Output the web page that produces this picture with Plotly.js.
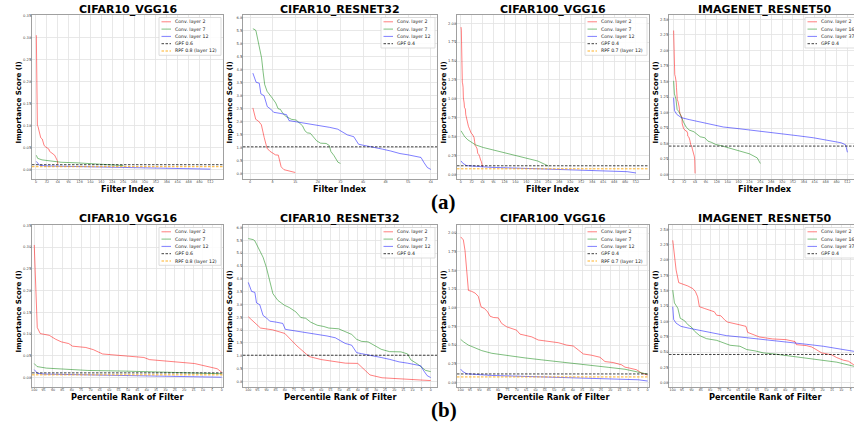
<!DOCTYPE html>
<html><head><meta charset="utf-8">
<script src="https://cdn.plot.ly/plotly-3.0.1.min.js"></script>
<style>html,body{margin:0;padding:0;overflow:hidden;background:#fff;width:854px;height:423px}#chart{width:862px;height:423px}</style>
</head><body><div id="chart"></div>
<script>
// ---------- DATA (percentile rank of filter -> importance score) ----------
// CIFAR10_VGG16
const c10vL2Pct   = [100, 98.4, 96.8, 95.2, 92, 88.6, 85.6, 81.6, 79.6, 72.5, 68.5, 63.5, 56.5, 48.5, 41.5, 38.5, 30.5, 21.4, 14.4, 8.4, 2.4, 0];
const c10vL2Score = [0.305, 0.115, 0.101, 0.100, 0.097, 0.088, 0.082, 0.078, 0.072, 0.069, 0.064, 0.054, 0.051, 0.048, 0.046, 0.041, 0.038, 0.034, 0.032, 0.026, 0.020, 0.012];
const c10vL7Pct   = [100, 98.5, 93.5, 81.6, 71.5, 51.5, 31.5, 11.4, 0];
const c10vL7Score = [0.032, 0.025, 0.0215, 0.0184, 0.0161, 0.0146, 0.0123, 0.010, 0.0085];
const c10vL12Pct   = [100, 98.2, 94.6, 60.5, 20.4, 0];
const c10vL12Score = [0.018, 0.0092, 0.0077, 0.0054, 0.003, 0.0005];
const c10vGPF = 0.0105, c10vRPF = 0.006;

// CIFAR10_RESNET32
const c10rL2Pct   = [100, 93.3, 86.7, 80, 73.3, 66.7, 60, 53.3, 46.7, 40, 33.3, 26.7, 20, 13.3, 6.7, 0];
const c10rL2Score = [2.52, 2.08, 2.01, 1.87, 1.38, 0.97, 0.85, 0.77, 0.71, 0.70, 0.25, 0.14, 0.11, 0.07, 0.05, 0.03];
const c10rL7Pct   = [100, 97.3, 96.4, 94.1, 91.9, 90.1, 88.3, 86.5, 83.8, 80.2, 77.5, 73.9, 71.2, 68.5, 65.8, 62.2, 58.6, 55.9, 50.5, 46, 43.3, 40.6, 37.9, 34.3, 30.7, 27.1, 22.6, 16.3, 12.7, 10.9, 7.3, 2.9, 0];
const c10rL7Score = [5.57, 5.53, 5.48, 5.12, 4.84, 4.45, 3.9, 3.42, 3.16, 2.97, 2.88, 2.71, 2.49, 2.46, 2.31, 2.19, 2.14, 2.08, 2.05, 1.9, 1.83, 1.64, 1.56, 1.54, 1.41, 1.25, 1.16, 1.15, 1.07, 0.84, 0.68, 0.43, 0.38];
const c10rL12Pct   = [100, 99.1, 98.2, 96.4, 95.5, 93.7, 91.9, 90.1, 88.3, 84.7, 81.1, 79.7, 73.9, 66.7, 61.3, 56.8, 52.3, 48.7, 46.9, 43.3, 40.6, 37.9, 32.5, 27.1, 22.6, 17.3, 12.7, 8.3, 5.5, 3.8, 1.9, 0];
const c10rL12Score = [3.86, 3.68, 3.51, 3.47, 3.06, 2.99, 2.57, 2.48, 2.35, 2.31, 2.26, 2.03, 1.97, 1.9, 1.83, 1.77, 1.70, 1.57, 1.48, 1.41, 1.12, 1.08, 0.99, 0.93, 0.86, 0.76, 0.71, 0.65, 0.61, 0.41, 0.22, 0.15];
const c10rGPF = 1.02;

// CIFAR100_VGG16
const c100vL2Pct   = [100, 98.6, 97.7, 96.8, 95.9, 94.1, 92.3, 90.6, 89.1, 87.3, 85.6, 84.3, 82.5, 79.9, 78.1, 75.4, 72.7, 70.1, 68.3, 65.6, 62, 58.5, 53.1, 47.8, 43.3, 39.8, 37.1, 34.4, 30, 25.5, 22.8, 18.4, 13.9, 12.1, 9.4, 5.9, 3.2, 1.4, 0];
const c100vL2Score = [1.95, 1.91, 1.765, 1.455, 1.233, 1.22, 1.197, 1.153, 1.011, 0.99, 0.945, 0.887, 0.87, 0.865, 0.79, 0.745, 0.723, 0.70, 0.647, 0.634, 0.61, 0.568, 0.545, 0.532, 0.50, 0.488, 0.435, 0.381, 0.364, 0.337, 0.279, 0.266, 0.235, 0.204, 0.19, 0.169, 0.124, 0.115, 0.098];
const c100vL7Pct   = [100, 98.6, 95.9, 92.3, 88.8, 83.4, 74.5, 65.6, 56.7, 47.8, 38.9, 30, 21.1, 12.1, 5, 0];
const c100vL7Score = [0.576, 0.545, 0.50, 0.457, 0.426, 0.39, 0.355, 0.328, 0.302, 0.279, 0.25, 0.226, 0.202, 0.176, 0.142, 0.11];
const c100vL12Pct   = [100, 99, 96.8, 92.3, 83.4, 65.6, 47.8, 30, 12.1, 5, 0];
const c100vL12Score = [0.177, 0.146, 0.115, 0.106, 0.093, 0.08, 0.067, 0.053, 0.044, 0.035, 0.018];
const c100vGPF = 0.113, c100vRPF = 0.073;

// IMAGENET_RESNET50
const inrL2Pct   = [100, 99.1, 98.2, 96.8, 94.7, 92, 89.3, 87.9, 86.7, 85.8, 83.1, 79.6, 77.8, 76.6, 74.3, 72, 70.7, 64.5, 60.9, 60, 57.3, 53.7, 46.7, 39.6, 34.7, 34, 28.7, 25.9, 24, 20.5, 15.1, 12.5, 8.9, 6.2, 3.6, 1.6, 0];
const inrL2Score = [2.32, 2.05, 1.836, 1.63, 1.61, 1.577, 1.534, 1.485, 1.40, 1.24, 1.21, 1.177, 1.156, 1.10, 1.09, 1.015, 0.988, 0.945, 0.918, 0.82, 0.783, 0.745, 0.713, 0.702, 0.67, 0.62, 0.605, 0.583, 0.55, 0.486, 0.454, 0.41, 0.367, 0.35, 0.297, 0.25, 0.02];
const inrL16Pct   = [100, 99.1, 97.3, 96, 93.7, 91.9, 90.1, 88.3, 85.6, 82, 76.5, 73, 69.4, 64.1, 60.5, 56, 51.6, 46.3, 37.4, 28.5, 19.6, 12.5, 3.6, 0];
const inrL16Score = [1.51, 1.30, 1.215, 1.05, 1.01, 0.945, 0.907, 0.837, 0.767, 0.718, 0.69, 0.648, 0.61, 0.594, 0.54, 0.518, 0.486, 0.47, 0.432, 0.40, 0.367, 0.335, 0.27, 0.18];
const inrL37Pct   = [100, 99.5, 98.2, 95.6, 91, 85.6, 78.5, 71.4, 64.1, 55.2, 46.3, 37.4, 28.5, 19.6, 10.7, 3.6, 1, 0];
const inrL37Score = [1.24, 1.03, 0.97, 0.918, 0.886, 0.853, 0.80, 0.767, 0.745, 0.718, 0.691, 0.664, 0.626, 0.594, 0.551, 0.513, 0.48, 0.36];
const inrGPF = 0.46;

// tick labels
const filterTicks = [0,32,64,96,128,160,192,224,256,288,320,352,384,416,448,480,512];
const resnet32Ticks = [0,8,16,24,32,40,48,56,64];
const pctTicks = [100,95,90,85,80,75,70,65,60,55,50,45,40,35,30,25,20,15,10,5,0];
const titles = ['CIFAR10_VGG16','CIFAR10_RESNET32','CIFAR100_VGG16','IMAGENET_RESNET50'];

// ---------- STYLE / LAYOUT ----------
const W = 862, H = 423;
const RED='rgba(255,0,0,0.5)', GREEN='rgba(0,128,0,0.5)', BLUE='rgba(0,0,255,0.5)';
const GPFC='rgba(0,0,0,0.75)', RPFC='rgba(255,165,0,0.85)';
const FONT='DejaVu Sans';
const cols=[[32,223],[243,437],[457,649],[669,861]];
const rows=[[15,179],[225,387]];
const titleY=[9.5,218.3];

const panels = [
 {layers:[['Conv. layer 2',64,c10vL2Pct,c10vL2Score,RED],['Conv. layer 7',256,c10vL7Pct,c10vL7Score,GREEN],['Conv. layer 12',512,c10vL12Pct,c10vL12Score,BLUE]],
  th:[['GPF 0.6',c10vGPF,GPFC],['RPF 0.8 (layer 12)',c10vRPF,RPFC]],
  xr1:[-11.7,549], xt1:filterTicks, xr2:[101.2,-0.7], yr:[-0.022,0.351], yt:[0,0.05,0.1,0.15,0.2,0.25,0.3,0.35], fmt:'.2f', legW:62},
 {layers:[['Conv. layer 2',16,c10rL2Pct,c10rL2Score,RED],['Conv. layer 7',32,c10rL7Pct,c10rL7Score,GREEN],['Conv. layer 12',64,c10rL12Pct,c10rL12Score,BLUE]],
  th:[['GPF 0.4',c10rGPF,GPFC]],
  xr1:[-2.5,66.2], xt1:resnet32Ticks, xr2:[102.9,-3.45], yr:[-0.22,6.1], yt:[0,0.5,1,1.5,2,2.5,3,3.5,4,4.5,5,5.5,6], fmt:'.1f', legW:54},
 {layers:[['Conv. layer 2',64,c100vL2Pct,c100vL2Score,RED],['Conv. layer 7',256,c100vL7Pct,c100vL7Score,GREEN],['Conv. layer 12',512,c100vL12Pct,c100vL12Score,BLUE]],
  th:[['GPF 0.4',c100vGPF,GPFC],['RPF 0.7 (layer 12)',c100vRPF,RPFC]],
  xr1:[-10.8,550], xt1:filterTicks, xr2:[102,-0.75], yr:[-0.062,2.11], yt:[0,0.25,0.5,0.75,1,1.25,1.5,1.75,2], fmt:'.2f', legW:62},
 {layers:[['Conv. layer 2',64,inrL2Pct,inrL2Score,RED],['Conv. layer 16',256,inrL16Pct,inrL16Score,GREEN],['Conv. layer 37',512,inrL37Pct,inrL37Score,BLUE]],
  th:[['GPF 0.4',inrGPF,GPFC]],
  xr1:[-12.6,552], xt1:filterTicks, xr2:[102,-0.5], yr:[-0.07,2.57], yt:[0,0.25,0.5,0.75,1,1.25,1.5,1.75,2,2.25,2.5], fmt:'.2f', legW:54}
];

const traces=[], shapes=[], annotations=[];
const layout = {width:W, height:H, margin:{l:0,r:0,t:0,b:0}, paper_bgcolor:'#fff', plot_bgcolor:'#fff', showlegend:false, font:{family:FONT}};
const px = x => x/W, py = y => 1 - y/H;

function axisBase(fs){
  return {showline:true, mirror:true, linecolor:'#a0a0a0', linewidth:1, showgrid:true, gridcolor:'#e2e2e2', gridwidth:0.8,
          zeroline:false, ticks:'outside', ticklen:1, tickwidth:0.6, tickcolor:'#a0a0a0', ticklabelstandoff:-2,
          tickfont:{family:FONT, size:fs, color:'#444'}, fixedrange:true};
}

panels.forEach((P,k)=>{
  for(let r=0;r<2;r++){
    const ax = k+1+4*r;
    const xa = ax===1?'x':'x'+ax, ya = ax===1?'y':'y'+ax;
    const xn = ax===1?'xaxis':'xaxis'+ax, yn = ax===1?'yaxis':'yaxis'+ax;
    const [L,R] = cols[k], [T,B] = rows[r];
    layout[xn] = Object.assign(axisBase(3.3), {domain:[px(L),px(R)], anchor:ya, range: r===0?P.xr1:P.xr2,
        tickmode:'array', tickvals: r===0?P.xt1:pctTicks, ticktext:(r===0?P.xt1:pctTicks).map(String)});
    layout[yn] = Object.assign(axisBase(3.7), {domain:[py(B),py(T)], anchor:xa, range:P.yr, tickmode:'array', tickvals:P.yt, tickformat:P.fmt});

    P.layers.forEach(Ly=>{
      const [name,n,pct,score,color] = Ly;
      const x = r===0 ? pct.map(p => 1 + (100-p)/100*(n-1)) : pct;
      traces.push({type:'scatter', mode:'lines', x:x, y:score, xaxis:xa, yaxis:ya, name:name,
                   line:{color:color, width:1}, showlegend:false, hoverinfo:'skip'});
    });
    P.th.forEach(t=>{
      shapes.push({type:'line', xref:xa+' domain', x0:0, x1:1, yref:ya, y0:t[1], y1:t[1], layer:'above',
                   line:{color:t[2], width:1, dash:'2.5px,1.5px'}});
    });

    // legend (drawn manually)
    const items = P.layers.map(l=>[l[0],l[4],'solid']).concat(P.th.map(t=>[t[0],t[2],'2.5px,1.5px']));
    const bR = R-2, bL = bR-P.legW, bT = T+2.5, c0 = T+6.8, step = 7.3;
    const bB = c0 + (items.length-1)*step + 4.3;
    shapes.push({type:'rect', xref:'paper', yref:'paper', x0:px(bL), x1:px(bR), y0:py(bB), y1:py(bT), layer:'above',
                 fillcolor:'rgba(255,255,255,0.85)', line:{color:'#d4d4d4', width:0.8}});
    items.forEach((it,i)=>{
      const cy = c0 + i*step;
      shapes.push({type:'line', xref:'paper', yref:'paper', x0:px(bL+2.5), x1:px(bL+12), y0:py(cy), y1:py(cy), layer:'above',
                   line:{color:it[1], width:1, dash:it[2]}});
      annotations.push({xref:'paper', yref:'paper', x:px(bL+16-2), y:py(cy), xanchor:'left', yanchor:'middle', showarrow:false,
                   text:it[0], font:{family:FONT, size:4.65, color:'#222'}});
    });

    // subplot title
    annotations.push({xref:'paper', yref:'paper', x:px((L+R)/2), y:py(titleY[r]), xanchor:'center', yanchor:'middle', showarrow:false,
                      text:'<b>'+titles[k]+'</b>', font:{family:FONT, size:11, color:'#000'}});
    // x title
    annotations.push({xref:'paper', yref:'paper', x:px((L+R)/2), y:py(B+9.8), xanchor:'center', yanchor:'middle', showarrow:false,
                      text:'<b>'+(r===0?'Filter Index':'Percentile Rank of Filter')+'</b>', font:{family:FONT, size:8.2, color:'#000'}});
    // y title
    annotations.push({xref:'paper', yref:'paper', x:px(L-14.5), y:py((T+B)/2+6), xanchor:'center', yanchor:'middle', showarrow:false, textangle:-90,
                      text:'<b>Importance Score (I)</b>', font:{family:FONT, size:7.1, color:'#000'}});
  }
});

annotations.push({xref:'paper', yref:'paper', x:px(444), y:py(202), xanchor:'center', yanchor:'middle', showarrow:false,
                  text:'<b>(a)</b>', font:{family:'Liberation Serif', size:21, color:'#000'}});
annotations.push({xref:'paper', yref:'paper', x:px(444), y:py(410), xanchor:'center', yanchor:'middle', showarrow:false,
                  text:'<b>(b)</b>', font:{family:'Liberation Serif', size:21, color:'#000'}});

layout.shapes = shapes;
layout.annotations = annotations;
Plotly.newPlot('chart', traces, layout, {staticPlot:true, displayModeBar:false});
</script></body></html>
